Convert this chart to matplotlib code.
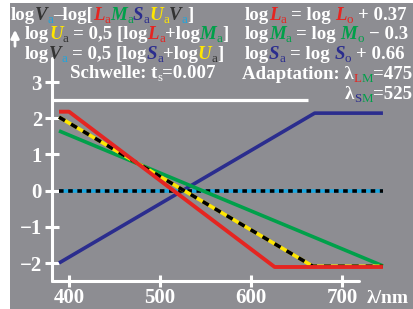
import matplotlib
matplotlib.use("Agg")
import matplotlib.pyplot as plt
from matplotlib.patches import Rectangle

W_PX, H_PX = 413, 309
DPI = 100

# data (wavelength in nm, log values)
lam_L = [389, 400, 626, 745]
log_L = [2.18, 2.18, -2.11, -2.11]
lam_M = [389, 745]
log_M = [1.65, -2.08]
lam_S = [389, 670, 745]
log_S = [-2.0, 2.14, 2.14]
lam_U = [389, 668, 745]
log_U = [2.03, -2.09, -2.09]
lam_V = [389, 745]
log_V = [0.0, 0.0]
lam_top = [381.3, 663]
log_top = [2.5, 2.5]

xticks = [400, 500, 600, 700]
yticks = [-2, -1, 0, 1, 2, 3]
ytick_labels = ["\u22122", "\u22121", "0", "1", "2", "3"]

GRAY = "#8d8d92"
WH = "white"
RED = "#e52521"
GRN = "#00a04a"
BLU = "#2b2d8e"
YEL = "#ffe600"
DRK = "#333333"
CYN = "#1aa6e0"
SERIF = "Liberation Serif"

plt.rcParams["lines.scale_dashes"] = False

fig = plt.figure(figsize=(W_PX / DPI, H_PX / DPI), dpi=DPI)
fig.patch.set_facecolor("white")
fig.patches.append(Rectangle((10 / W_PX, 0), 1, 1 - 3 / H_PX, transform=fig.transFigure,
                             facecolor=GRAY, edgecolor="none", zorder=-10))

# axes placed so that the spines sit where they are in the reference
left, right, bottom, top = 52, 359, 281, 58
ax = fig.add_axes([left / W_PX, 1 - bottom / H_PX, (right - left) / W_PX, (bottom - top) / H_PX])
ax.set_facecolor(GRAY)
ax.set_xlim(381.3, 718.7)
ax.set_ylim(-2.497, 3.663)
for s in ["top", "right"]:
    ax.spines[s].set_visible(False)
for s in ["left", "bottom"]:
    ax.spines[s].set_color(WH)
    ax.spines[s].set_linewidth(2.2)
    ax.spines[s].set_capstyle("round")

ax.set_xticks(xticks)
ax.set_xticklabels([str(v) for v in xticks])
ax.set_yticks(yticks)
ax.set_yticklabels(ytick_labels)
ax.tick_params(axis="both", colors=WH, direction="inout", width=2.2)
ax.tick_params(axis="y", length=9.4, pad=2.5)
ax.tick_params(axis="x", length=8, pad=1)
for lab in ax.get_xticklabels() + ax.get_yticklabels():
    lab.set_fontfamily(SERIF)
    lab.set_fontweight("bold")
    lab.set_fontsize(15)
    lab.set_color(WH)

kw = dict(clip_on=False, solid_capstyle="butt", dash_capstyle="butt")
ax.plot(lam_top, log_top, color=WH, lw=2.3, **kw)
ax.plot(lam_S, log_S, color=BLU, lw=2.6, **kw)
ax.plot(lam_V, log_V, color=CYN, lw=2.6, **kw)
ax.plot(lam_V, log_V, color="black", lw=2.6, dashes=(3.3, 3.3), **kw)
ax.plot(lam_M, log_M, color=GRN, lw=2.6, **kw)
ax.plot(lam_U, log_U, color=YEL, lw=2.6, **kw)
ax.plot(lam_U, log_U, color="black", lw=2.6, dashes=(5, 5), **kw)
ax.plot(lam_L, log_L, color=RED, lw=2.8, **kw)

fig.text(367 / W_PX, 1 - 303 / H_PX, "\u03bb/nm", color=WH, fontsize=14,
         family=SERIF, fontweight="bold", va="baseline", ha="left")

renderer = fig.canvas.get_renderer()
MAIN = 13.6
SUB = 9.3


def rich(x, y, parts):
    # draw coloured pieces one after the other, x/y in pixels from top-left, y = baseline
    cx = x
    for txt, col, kind in parts:
        if kind == "sp":
            cx += 0.25 * MAIN * DPI / 72
            continue
        fs, fw, st, dy = MAIN, "bold", "normal", 0
        if kind == "i":
            st = "italic"
        elif kind == "s":
            fs, fw, dy = SUB, "normal", 3
        t = fig.text(cx / W_PX, 1 - (y + dy) / H_PX, txt, color=col, fontsize=fs,
                     fontweight=fw, fontstyle=st, family=SERIF, va="baseline", ha="left")
        cx += t.get_window_extent(renderer).width
    return cx


SP = ("", None, "sp")

rich(11, 20, [("log", WH, "b"), ("V", DRK, "i"), ("a", CYN, "s"), ("\u2013log[", WH, "b"),
              ("L", RED, "i"), ("a", RED, "s"), ("M", GRN, "i"), ("a", GRN, "s"),
              ("S", BLU, "i"), ("a", BLU, "s"), ("U", YEL, "i"), ("a", YEL, "s"),
              ("V", DRK, "i"), ("a", CYN, "s"), ("]", WH, "b")])
rich(25, 39, [("log", WH, "b"), ("U", YEL, "i"), ("a", DRK, "s"), SP, ("= 0,5 [log", WH, "b"),
              ("L", RED, "i"), ("a", RED, "s"), ("+log", WH, "b"), ("M", GRN, "i"),
              ("a", GRN, "s"), ("]", WH, "b")])
rich(25, 59, [("log", WH, "b"), ("V", DRK, "i"), ("a", CYN, "s"), SP, ("= 0,5 [log", WH, "b"),
              ("S", BLU, "i"), ("a", BLU, "s"), ("+log", WH, "b"), ("U", YEL, "i"),
              ("a", DRK, "s"), ("]", WH, "b")])
rich(70, 78, [("Schwelle: t", WH, "b"), ("s", WH, "s"), ("=0.007", WH, "b")])

rich(245, 20, [("log", WH, "b"), ("L", RED, "i"), ("a", RED, "s"), SP, ("= log", WH, "b"), SP,
               ("L", RED, "i"), ("o", RED, "s"), SP, ("+ 0.37", WH, "b")])
rich(245, 39, [("log", WH, "b"), ("M", GRN, "i"), ("a", GRN, "s"), SP, ("= log", WH, "b"), SP,
               ("M", GRN, "i"), ("o", GRN, "s"), SP, ("\u2212 0.3", WH, "b")])
rich(245, 59, [("log", WH, "b"), ("S", BLU, "i"), ("a", BLU, "s"), SP, ("= log", WH, "b"), SP,
               ("S", BLU, "i"), ("o", BLU, "s"), SP, ("+ 0.66", WH, "b")])
rich(242, 79, [("Adaptation: \u03bb", WH, "b"), ("L", RED, "s"), ("M", GRN, "s"), ("=475", WH, "b")])
rich(345, 99, [("\u03bb", WH, "b"), ("S", BLU, "s"), ("M", GRN, "s"), ("=525", WH, "b")])

# small white arrow at the left of the second line
fig.add_artist(plt.Annotation("", xy=(15, H_PX - 27), xytext=(15, H_PX - 49),
                              xycoords="figure pixels", textcoords="figure pixels",
                              arrowprops=dict(arrowstyle="-|>", color=WH, lw=2, mutation_scale=12)))

fig.savefig("out.png", dpi=DPI, facecolor=fig.get_facecolor())
